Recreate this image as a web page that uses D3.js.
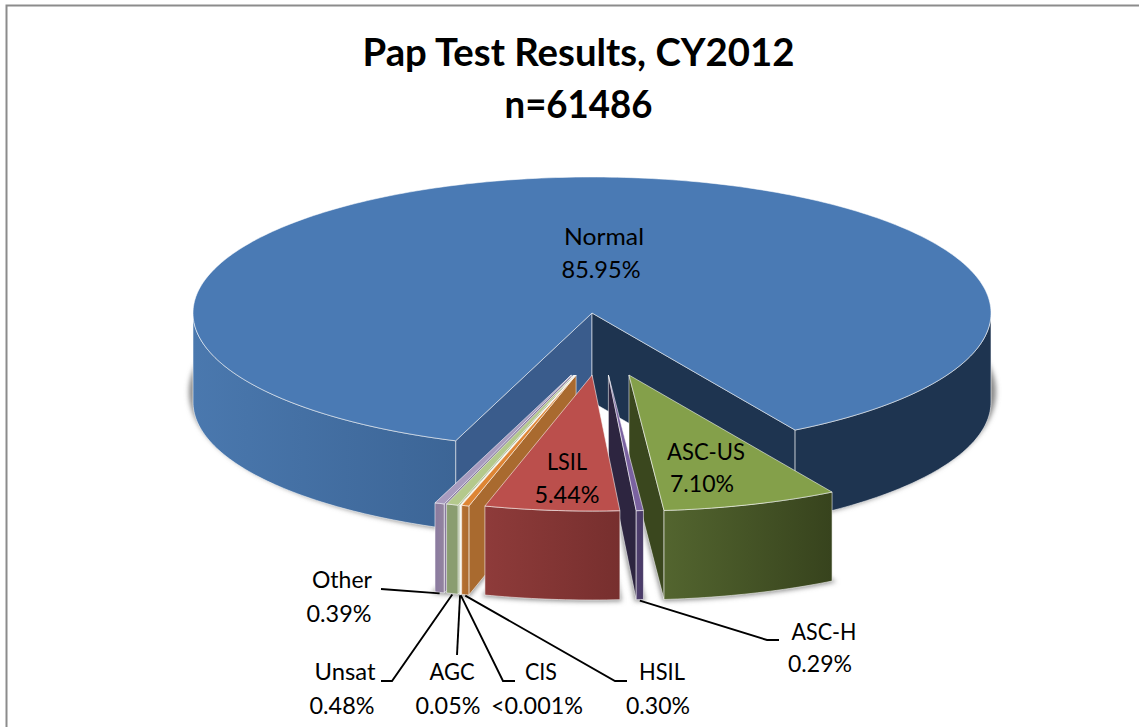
<!DOCTYPE html>
<html>
<head>
<meta charset="utf-8">
<script src="https://cdn.jsdelivr.net/npm/d3@7"></script>
<style>
  html, body { margin: 0; padding: 0; background: #fff; }
  svg { display: block; font-family: Lato, "Open Sans", sans-serif; }
</style>
</head>
<body>
<svg id="chart" width="1139" height="727"></svg>
<script>
// values, in clockwise order from the ASC-US cut
const categories = ["ASC-US", "ASC-H", "LSIL", "HSIL", "CIS", "AGC", "Unsat", "Other", "Normal"];
const values = [7.10, 0.29, 5.44, 0.30, 0.001, 0.05, 0.48, 0.39, 85.95];
const valueLabels = ["7.10%", "0.29%", "5.44%", "0.30%", "<0.001%", "0.05%", "0.48%", "0.39%", "85.95%"];
const titleLines = ["Pap Test Results, CY2012", "n=61486"];

// colours: top face, cut wall, outer wall left, outer wall right
const sliceColors = {
    "Normal": ["#4a7ab4", "#3a5c8c", "#4a78ae", "#3c6596"],
    "ASC-US": ["#84a04a", "#3a471e", "#53652f", "#37431d"],
    "ASC-H":  ["#7a62a0", "#2d2540", "#50406f", "#483a66"],
    "LSIL":   ["#bb4f4c", "#7a3030", "#8e3b3a", "#772f2e"],
    "HSIL":   ["#de8534", "#a96a2f", "#b66f30", "#aa6a30"],
    "CIS":    ["#f2dcc4", "#e8d8c8", "#f2ead8", "#f2ead8"],
    "AGC":    ["#cfdcae", "#a9ba8a", "#bccba0", "#bccba0"],
    "Unsat":  ["#b4c98c", "#8a9d6e", "#8a9d70", "#8a9d70"],
    "Other":  ["#a89bbf", "#8a7a9f", "#8a7a9f", "#93849f"]
};
const navyWall = "#1e3450";

// label placement: centre x, baseline, fitted width for both lines, leader knots
const labelLayout = [
    { name: "Normal", x: 604, x2: 601, y: 245, y2: 278, w: 80, w2: 79 },
    { name: "LSIL", x: 567, x2: 567, y: 470, y2: 503, w: 40, w2: 65 },
    { name: "ASC-US", x: 706, x2: 702, y: 460, y2: 492, w: 78, w2: 64 },
    { name: "ASC-H", x: 824, x2: 820, y: 640, y2: 672, w: 65, w2: 64, leader: [[767, 640], [779, 640]] },
    { name: "HSIL", x: 662, x2: 658, y: 680, y2: 714, w: 46, w2: 64, leader: [[615, 681], [627, 681]] },
    { name: "CIS", x: 541, x2: 537, y: 680, y2: 714, w: 32, w2: 92, leader: [[503, 681], [515, 681]] },
    { name: "AGC", x: 452, x2: 448, y: 680, y2: 714, w: 45, w2: 65, leader: [[457, 655]] },
    { name: "Unsat", x: 345, x2: 342, y: 680, y2: 714, w: 61, w2: 65, leader: [[392, 681], [381, 681]] },
    { name: "Other", x: 342, x2: 339, y: 588, y2: 622, w: 60, w2: 65, leader: [[381, 589]] }
];

const drawOrder = ["Normal", "ASC-US", "ASC-H", "Other", "Unsat", "AGC", "CIS", "HSIL", "LSIL"];

let svg = d3.select("#chart");
let depth = 89;
let rad = Math.PI / 180;

// the unit disc seen at a tilt
let xscale = d3.scaleLinear().domain([-1, 1]).range([193, 991]);
let yscale = d3.scaleLinear().domain([-1, 1]).range([177, 449]);
// wider, lower disc that only peeks out around the rim as a shadow
let xshadow = d3.scaleLinear().domain([-1, 1]).range([189, 996]);
let yshadow = d3.scaleLinear().domain([-1, 1]).range([244, 540]);

let pie = d3.pie().sort(null).startAngle(149.4 * rad).endAngle((149.4 + 360) * rad);
let slices = pie(values).map((d, i) => {
    let mid = (d.startAngle + d.endAngle) / 2;
    let pulled = categories[i] != "Normal";
    return {
        name: categories[i], text: valueLabels[i], a0: d.startAngle, a1: d.endAngle, mid: mid,
        du: pulled ? 0.227 * Math.sin(mid) + 0.0232 : 0,
        dv: pulled ? 0.456 : 0
    };
});

function pt(s, a, r, lift) {
    return [xscale(s.du + r * Math.sin(a)), yscale(s.dv - r * Math.cos(a)) + lift];
}
function arcPts(s, a0, a1, lift) {
    let n = Math.max(2, Math.ceil((a1 - a0) / rad));
    return d3.range(n + 1).map(k => pt(s, a0 + (a1 - a0) * k / n, 1, lift));
}
let line = d3.line();
let defs = svg.append("defs");
let blur = defs.append("filter").attr("id", "blur")
    .attr("x", "-10%").attr("y", "-10%").attr("width", "120%").attr("height", "120%");
blur.append("feGaussianBlur").attr("stdDeviation", 2.4);

// parts of the rim that face the viewer
function frontParts(s) {
    let parts = [];
    [90, 450].forEach(from => {
        let lo = Math.max(s.a0, from * rad), hi = Math.min(s.a1, (from + 180) * rad);
        if (hi > lo) parts.push([lo, hi]);
    });
    return parts;
}

// frame, open on the right
svg.append("path").attr("d", "M6.5,727V5.5H1139").attr("fill", "none")
    .attr("stroke", "#8c8c8c").attr("stroke-width", 2);

// soft shadow under everything
let shadow = svg.append("g").attr("filter", "url(#blur)").attr("fill", "#8a8a8a").attr("stroke", "#8a8a8a");
slices.forEach(s => {
    if (s.name == "Normal") {
        let n = 320;
        let rim = d3.range(n + 1).map(k => {
            let a = s.a0 + (s.a1 - s.a0) * k / n;
            return [xshadow(Math.sin(a)), yshadow(-Math.cos(a))];
        });
        shadow.append("path").attr("stroke", "none")
            .attr("d", line(rim.concat([[xshadow(0), yshadow(0)]])) + "Z");
    } else {
        // only the floor of a pulled slice casts a shadow
        shadow.append("path").attr("stroke-width", 3)
            .attr("d", line(arcPts(s, s.a0, s.a1, depth).concat([pt(s, 0, 0, depth)])) + "Z");
    }
});

let body = svg.append("g").attr("stroke", "#fff").attr("stroke-opacity", 0.55)
    .attr("stroke-width", 1).attr("stroke-linejoin", "round");

drawOrder.forEach((name, idx) => {
    let s = slices.find(d => d.name == name);
    let col = sliceColors[name];
    let g = body.append("g");

    // cut walls, only where they turn towards the viewer
    if (Math.sin(s.a0) < 0) {
        g.append("path").attr("fill", col[1]).attr("d", line([
            pt(s, 0, 0, 0), pt(s, s.a0, 1, 0), pt(s, s.a0, 1, depth), pt(s, 0, 0, depth)]) + "Z");
    }
    if (Math.sin(s.a1) > 0) {
        g.append("path").attr("fill", name == "Normal" ? navyWall : col[1]).attr("d", line([
            pt(s, 0, 0, 0), pt(s, s.a1, 1, 0), pt(s, s.a1, 1, depth), pt(s, 0, 0, depth)]) + "Z");
    }

    // outer rim
    frontParts(s).forEach((p, j) => {
        let top = arcPts(s, p[0], p[1], 0), bottom = arcPts(s, p[0], p[1], depth).reverse();
        let xs = d3.extent(top, q => q[0]);
        let id = "rim" + idx + "_" + j;
        let grad = defs.append("linearGradient").attr("id", id).attr("gradientUnits", "userSpaceOnUse")
            .attr("x1", xs[0]).attr("x2", xs[1]).attr("y1", 0).attr("y2", 0);
        let dark = name == "Normal" && xs[0] > xscale(0);
        grad.append("stop").attr("offset", 0).attr("stop-color", dark ? navyWall : col[2]);
        grad.append("stop").attr("offset", 1).attr("stop-color", dark ? navyWall : col[3]);
        g.append("path").attr("fill", "url(#" + id + ")").attr("d", line(top.concat(bottom)) + "Z");
    });

    // top face
    g.append("path").attr("fill", col[0])
        .attr("d", line([pt(s, 0, 0, 0)].concat(arcPts(s, s.a0, s.a1, 0))) + "Z");
});

// leader lines start on the bottom edge of the slice
let leaders = svg.append("g").attr("fill", "none").attr("stroke", "#000").attr("stroke-width", 1.9);
labelLayout.filter(d => d.leader).forEach(d => {
    let s = slices.find(v => v.name == d.name);
    leaders.append("path").attr("d", line([pt(s, s.mid, 1, depth + 1)].concat(d.leader)));
});

// texts, fitted to the widths measured in the picture
let labelFont = 24;
labelLayout.forEach(d => {
    let s = slices.find(v => v.name == d.name);
    [[d.x, d.y, d.name, d.w], [d.x2, d.y2, s.text, d.w2]].forEach(t => {
        svg.append("text").attr("x", t[0]).attr("y", t[1]).attr("text-anchor", "middle")
            .attr("font-size", labelFont).attr("fill", "#000")
            .attr("textLength", t[3]).attr("lengthAdjust", "spacingAndGlyphs").text(t[2]);
    });
});
let titleWidths = [432, 148];
titleLines.forEach((t, i) => {
    svg.append("text").attr("x", 578.5).attr("y", 66 + i * 52).attr("text-anchor", "middle")
        .attr("font-size", 38).attr("font-weight", 700).attr("fill", "#000")
        .attr("textLength", titleWidths[i]).attr("lengthAdjust", "spacingAndGlyphs").text(t);
});
</script>
</body>
</html>
